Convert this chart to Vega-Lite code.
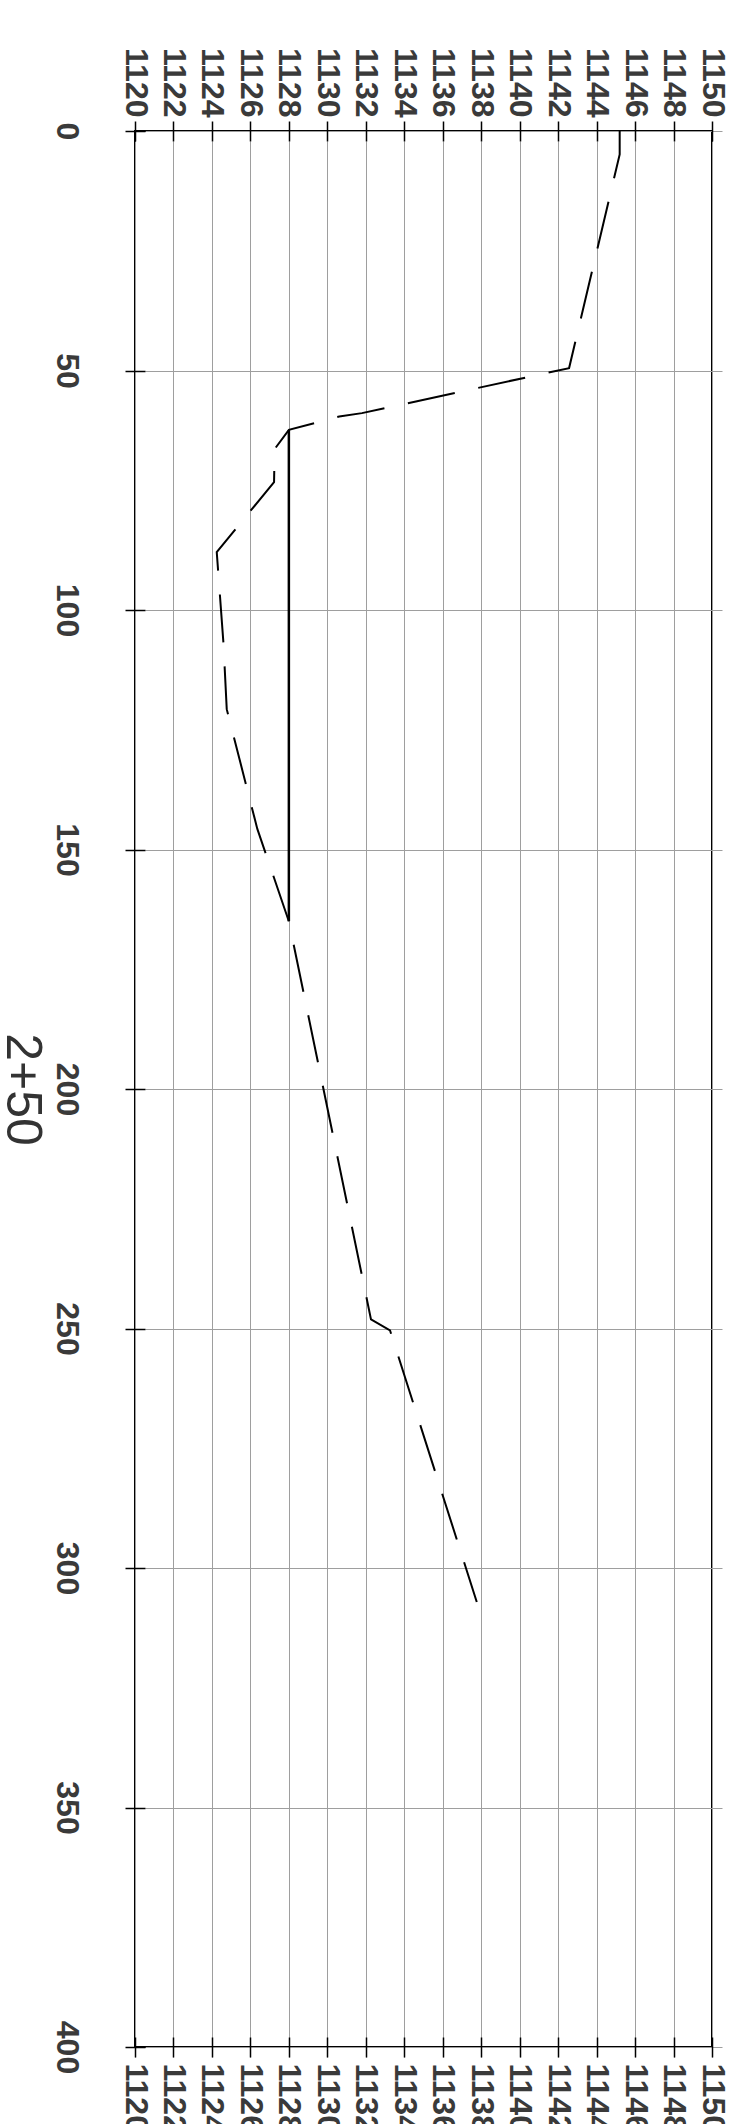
{
  "$schema": "https://vega.github.io/schema/vega-lite/v6.json",
  "width": 577,
  "height": 1916,
  "autosize": {"type": "none"},
  "padding": {"left": 135, "top": 131, "right": 31, "bottom": 77},
  "background": "white",
  "config": {
    "view": {"stroke": "black", "strokeWidth": 2},
    "axis": {
      "labelFont": "Liberation Sans",
      "labelFontSize": 32,
      "labelFontWeight": "bold",
      "labelColor": "#3a3a3a",
      "titleFont": "Liberation Sans",
      "titleColor": "#333333",
      "titleFontWeight": "normal",
      "domain": false,
      "grid": true,
      "gridColor": "#9e9e9e",
      "gridWidth": 1,
      "tickColor": "black",
      "tickWidth": 1.5,
      "tickSize": 20,
      "offset": -10,
      "labelFlush": false,
      "labelOverlap": false,
      "labelBound": false
    }
  },
  "datasets": {
    "ground": [
      {"dist": 0, "elev": 1145.2},
      {"dist": 4.9, "elev": 1145.2},
      {"dist": 49.5, "elev": 1142.57},
      {"dist": 58.9, "elev": 1131.8},
      {"dist": 59.6, "elev": 1130.62},
      {"dist": 62.4, "elev": 1128.0},
      {"dist": 66.4, "elev": 1127.26},
      {"dist": 73.3, "elev": 1127.23},
      {"dist": 87.9, "elev": 1124.25},
      {"dist": 107, "elev": 1124.6},
      {"dist": 120.7, "elev": 1124.77},
      {"dist": 145.7, "elev": 1126.36},
      {"dist": 165.0, "elev": 1128.0},
      {"dist": 248.1, "elev": 1132.27},
      {"dist": 250.4, "elev": 1133.26},
      {"dist": 307.1, "elev": 1137.77}
    ],
    "level": [
      {"dist": 62.4, "elev": 1128.0},
      {"dist": 165.0, "elev": 1128.0}
    ]
  },
  "layer": [
    {
      "data": {"name": "ground"},
      "mark": {"type": "line", "color": "black", "strokeWidth": 2, "strokeDash": [48, 24], "clip": true},
      "encoding": {
        "x": {
          "field": "elev", "type": "quantitative",
          "scale": {"domain": [1120, 1150], "nice": false, "zero": false},
          "axis": {
            "orient": "top", "title": null,
            "values": [1120,1122,1124,1126,1128,1130,1132,1134,1136,1138,1140,1142,1144,1146,1148,1150],
            "format": "d",
            "labelAngle": 90, "labelAlign": "right", "labelBaseline": "middle", "labelPadding": 4
          }
        },
        "y": {
          "field": "dist", "type": "quantitative",
          "scale": {"domain": [0, 400], "nice": false, "zero": false, "reverse": true},
          "axis": {
            "orient": "left",
            "values": [0,50,100,150,200,250,300,350,400],
            "labelAngle": 90, "labelAlign": "center", "labelBaseline": "top", "labelPadding": 44,
            "title": "2+50", "titleAngle": 90, "titleFontSize": 50, "titleBaseline": "top", "titleAlign": "center", "titlePadding": 4
          }
        },
        "order": {"field": "dist", "type": "quantitative"}
      }
    },
    {
      "data": {"name": "level"},
      "mark": {"type": "line", "color": "black", "strokeWidth": 2.5},
      "encoding": {
        "x": {
          "field": "elev", "type": "quantitative",
          "scale": {"domain": [1120, 1150], "nice": false, "zero": false},
          "axis": {
            "orient": "bottom", "title": null,
            "values": [1120,1122,1124,1126,1128,1130,1132,1134,1136,1138,1140,1142,1144,1146,1148,1150],
            "format": "d",
            "labelAngle": 90, "labelAlign": "left", "labelBaseline": "middle", "labelPadding": 6
          }
        },
        "y": {
          "field": "dist", "type": "quantitative",
          "scale": {"domain": [0, 400], "nice": false, "zero": false, "reverse": true},
          "axis": {
            "orient": "left",
            "values": [0,50,100,150,200,250,300,350,400],
            "labelAngle": 90, "labelAlign": "center", "labelBaseline": "top", "labelPadding": 44,
            "title": "2+50", "titleAngle": 90, "titleFontSize": 50, "titleBaseline": "top", "titleAlign": "center", "titlePadding": 4
          }
        },
        "order": {"field": "dist", "type": "quantitative"}
      }
    }
  ],
  "resolve": {"axis": {"x": "independent"}}
}
